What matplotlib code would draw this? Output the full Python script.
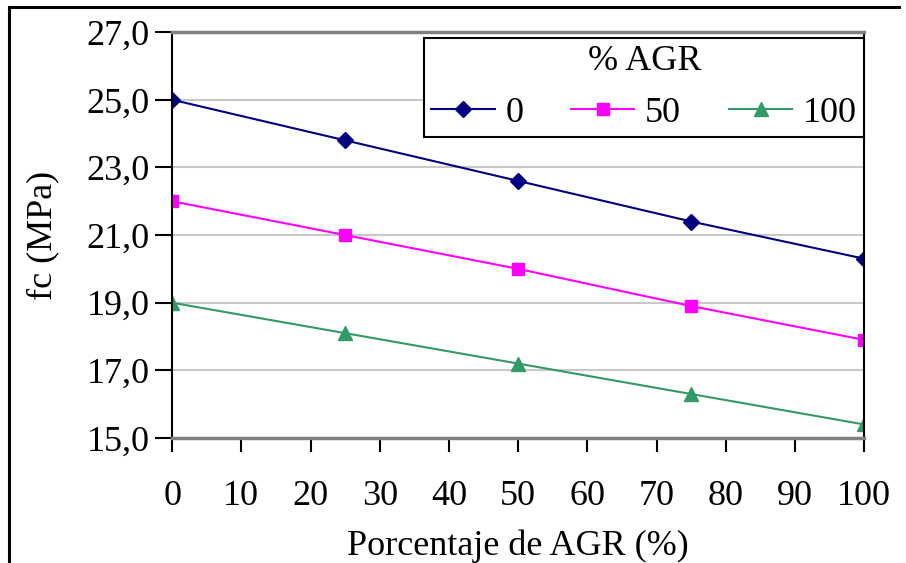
import matplotlib.pyplot as plt
from matplotlib.lines import Line2D

# compressive strength vs. recycled aggregate content
pct_agr = [0, 25, 50, 75, 100]
fc_0 = [25.0, 23.8, 22.6, 21.4, 20.3]
fc_50 = [22.0, 21.0, 20.0, 18.9, 17.9]
fc_100 = [19.0, 18.1, 17.2, 16.3, 15.4]
series_labels = ['0', '50', '100']

plt.rcParams['font.family'] = ['Liberation Serif', 'DejaVu Serif']
plt.rcParams['font.size'] = 26

fig = plt.figure(figsize=(9.06, 5.63), dpi=100)
ax = fig.add_axes([0.190, 0.222, 0.764, 0.721])

# outer frame (left and top edges only)
fig.add_artist(Line2D([0.010, 0.010], [0.0, 0.988], color='black', lw=2.2))
fig.add_artist(Line2D([0.010, 0.992], [0.988, 0.988], color='black', lw=2.2))

ax.plot(pct_agr, fc_0, color='#000080', marker='D', markersize=8, lw=1.5, label=series_labels[0])
ax.plot(pct_agr, fc_50, color='#ff00ff', marker='s', markersize=9, lw=1.5, label=series_labels[1])
ax.plot(pct_agr, fc_100, color='#339966', marker='^', markersize=10, lw=1.5, label=series_labels[2])

ax.set_xlim(0, 100)
ax.set_ylim(15, 27)
ax.set_xticks(range(0, 101, 10))
ax.set_yticks([15, 17, 19, 21, 23, 25, 27])
ax.set_yticklabels(['15,0', '17,0', '19,0', '21,0', '23,0', '25,0', '27,0'])
ax.grid(axis='y', color='#c8c8c8', lw=1.5)
ax.set_axisbelow(True)

for side in ['left', 'right']:
    ax.spines[side].set_color('black')
    ax.spines[side].set_linewidth(1.5)
for side in ['top', 'bottom']:
    ax.spines[side].set_color('#808080')
    ax.spines[side].set_linewidth(2.5)

ax.tick_params(axis='y', length=12, width=1.5, pad=4)
ax.tick_params(axis='x', length=10, width=1.5, pad=20)

ax.set_xlabel('Porcentaje de AGR (%)', labelpad=12)
ax.set_ylabel('fc (MPa)', labelpad=20)

leg = ax.legend(title='% AGR', ncol=3, loc='upper left', mode='expand',
                bbox_to_anchor=(0.364, 0.736, 0.636, 0.249), fancybox=False,
                framealpha=1, edgecolor='black', handlelength=1.75,
                handletextpad=0.3, columnspacing=1.0, borderaxespad=0,
                borderpad=0.2)
leg.get_frame().set_linewidth(1.5)

fig.savefig('out.png', dpi=100)
